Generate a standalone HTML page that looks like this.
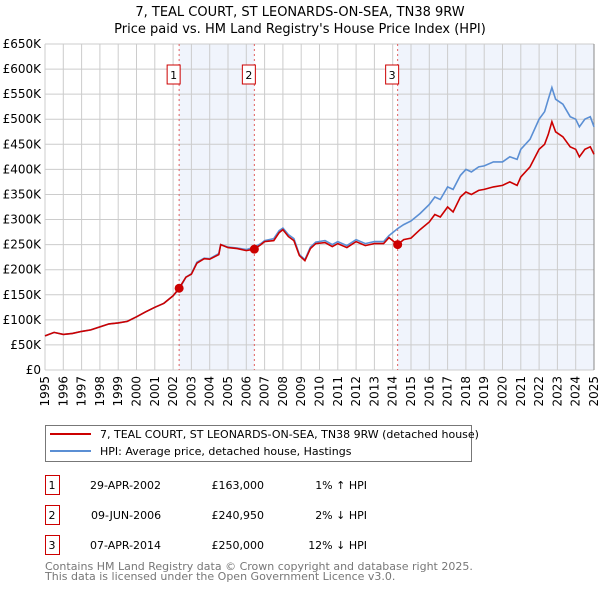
<!DOCTYPE html>
<html><head><meta charset="utf-8"><style>
body{margin:0;background:#fff;font-family:"Liberation Sans","DejaVu Sans",sans-serif}
svg text{font-family:"DejaVu Sans","Liberation Sans",sans-serif}
</style></head><body>
<svg id="chart" width="600" height="590" xmlns="http://www.w3.org/2000/svg">
<text x="300" y="16" text-anchor="middle" font-size="13">7, TEAL COURT, ST LEONARDS-ON-SEA, TN38 9RW</text>
<text x="300" y="33" text-anchor="middle" font-size="13">Price paid vs. HM Land Registry's House Price Index (HPI)</text>
<g id="plot"></g>
<g>
<rect x="45.5" y="425.5" width="426" height="36" fill="#fff" stroke="#777"/>
<line x1="50" y1="434" x2="91" y2="434" stroke="#cc0000" stroke-width="2"/>
<text x="100" y="438" font-size="11">7, TEAL COURT, ST LEONARDS-ON-SEA, TN38 9RW (detached house)</text>
<line x1="50" y1="451" x2="91" y2="451" stroke="#5b8fd4" stroke-width="2"/>
<text x="100" y="455" font-size="11">HPI: Average price, detached house, Hastings</text>
</g>
<g font-size="11">
<rect x="45.5" y="475.5" width="14" height="19" fill="#fff" stroke="#cc0000"/><text x="52" y="489" text-anchor="middle">1</text>
<text x="90" y="489">29-APR-2002</text><text x="264" y="489" text-anchor="end">£163,000</text><text x="367" y="489" text-anchor="end">1% ↑ HPI</text>
<rect x="45.5" y="505.5" width="14" height="19" fill="#fff" stroke="#cc0000"/><text x="52" y="519" text-anchor="middle">2</text>
<text x="91" y="519">09-JUN-2006</text><text x="264" y="519" text-anchor="end">£240,950</text><text x="367" y="519" text-anchor="end">2% ↓ HPI</text>
<rect x="45.5" y="535.5" width="14" height="19" fill="#fff" stroke="#cc0000"/><text x="52" y="549" text-anchor="middle">3</text>
<text x="90" y="549">07-APR-2014</text><text x="264" y="549" text-anchor="end">£250,000</text><text x="367" y="549" text-anchor="end">12% ↓ HPI</text>
</g>
<text x="45" y="570" font-size="11" fill="#777">Contains HM Land Registry data © Crown copyright and database right 2025.</text>
<text x="45" y="580" font-size="11" fill="#777">This data is licensed under the Open Government Licence v3.0.</text>
</svg>
<script>
const years=[1995,1995.5,1996,1996.5,1997,1997.5,1998,1998.5,1999,1999.5,2000,2000.5,2001,2001.5,2002,2002.33,2002.7,2003,2003.3,2003.7,2004,2004.5,2004.6,2005,2005.5,2006,2006.44,2006.8,2007,2007.5,2007.8,2008,2008.3,2008.6,2008.9,2009.2,2009.5,2009.8,2010.3,2010.7,2011,2011.5,2012,2012.5,2013,2013.5,2013.8,2014.27,2014.6,2015,2015.5,2016,2016.3,2016.6,2017,2017.3,2017.7,2018,2018.3,2018.7,2019,2019.5,2020,2020.4,2020.8,2021,2021.5,2022,2022.3,2022.5,2022.7,2022.9,2023.3,2023.7,2024,2024.2,2024.5,2024.8,2025];
const hpi=[68,75,71,73,77,80,86,92,94,97,106,116,125,133,148,161,185,192,215,223,222,232,250,245,243,240,245,252,258,262,278,283,270,262,230,220,245,255,258,250,256,248,260,252,256,256,268,282,290,297,312,330,345,340,365,360,388,400,395,405,407,415,415,425,420,440,460,500,515,540,563,540,530,505,500,485,500,505,485];
const paid=[68,75,71,73,77,80,86,92,94,97,106,116,125,133,148,163,185,191,213,222,221,230,250,244,242,238,241,250,256,258,274,280,266,258,228,218,242,252,254,246,252,244,256,248,252,252,264,250,260,263,280,295,310,305,325,315,345,355,350,358,360,365,368,375,368,385,405,440,450,470,495,475,465,445,440,425,440,445,430];
const yTicks=[0,50,100,150,200,250,300,350,400,450,500,550,600,650];
const yTickLabels=["£0","£50K","£100K","£150K","£200K","£250K","£300K","£350K","£400K","£450K","£500K","£550K","£600K","£650K"];
const xTicks=[1995,1996,1997,1998,1999,2000,2001,2002,2003,2004,2005,2006,2007,2008,2009,2010,2011,2012,2013,2014,2015,2016,2017,2018,2019,2020,2021,2022,2023,2024,2025];
const saleYears=[2002.33,2006.44,2014.27];
const saleValues=[163,240.95,250];
const saleLabels=["1","2","3"];
const X=t=>45+(t-1995)*(594-45)/30;
const Y=v=>370-v*(370-44)/650;
const NS="http://www.w3.org/2000/svg";
const g=document.getElementById('plot');
function mk(tag,attrs){const e=document.createElementNS(NS,tag);for(const k in attrs)e.setAttribute(k,attrs[k]);g.appendChild(e);return e;}
let e;
e=mk('rect',{x:X(saleYears[0]),y:44,width:X(saleYears[1])-X(saleYears[0]),height:326,fill:'#f0f4fc'});


e=mk('rect',{x:X(saleYears[2]),y:44,width:X(2025)-X(saleYears[2]),height:326,fill:'#f0f4fc'});


yTicks.forEach((v,i)=>{
 e=mk('line',{x1:45,x2:594,y1:Y(v),y2:Y(v),stroke:'#ccc','stroke-width':1});
 
 
 e=mk('text',{x:41,y:Y(v)+4,'text-anchor':'end','font-size':12});
 e.textContent=yTickLabels[i];
 
 
});
xTicks.forEach(t=>{
 e=mk('line',{x1:X(t),x2:X(t),y1:44,y2:370,stroke:'#ccc','stroke-width':1});
 
 
 e=mk('text',{x:0,y:0,'text-anchor':'end','font-size':12,transform:`translate(${X(t)+4},376) rotate(-90)`});
 e.textContent=t;
 
 
});
e=mk('line',{x1:X(2025),x2:X(2025),y1:44,y2:370,stroke:'#888','stroke-width':1});


saleYears.forEach((t,i)=>{
 e=mk('line',{x1:X(t),x2:X(t),y1:44,y2:370,stroke:'#e06060','stroke-dasharray':'2,3','stroke-width':1});
 
 
 e=mk('rect',{x:X(t)-12,y:65,width:13,height:19,fill:'#fff',stroke:'#cc0000'});
 
 
 e=mk('text',{x:X(t)-5.5,y:79,'text-anchor':'middle','font-size':11});
 e.textContent=saleLabels[i];
 
 
});
const pts=a=>years.map((t,i)=>X(t).toFixed(1)+','+Y(a[i]).toFixed(1)).join(' ');
e=mk('polyline',{points:pts(hpi),fill:'none',stroke:'#5b8fd4','stroke-width':1.6});


e=mk('polyline',{points:pts(paid),fill:'none',stroke:'#cc0000','stroke-width':1.6});


saleYears.forEach((t,i)=>{
 e=mk('circle',{cx:X(t),cy:Y(saleValues[i]),r:4.5,fill:'#cc0000'});
 
 
});
</script>
</body></html>
